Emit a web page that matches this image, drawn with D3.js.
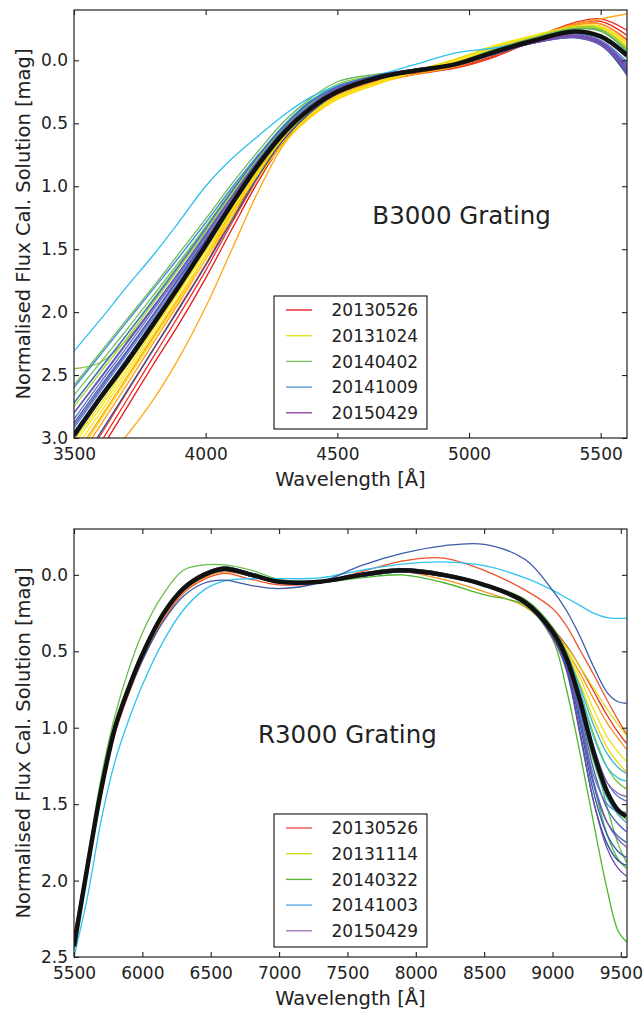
<!DOCTYPE html>
<html>
<head>
<meta charset="utf-8">
<script src="https://cdn.jsdelivr.net/npm/d3@7"></script>
<style>
body { margin: 0; background: #fff; }
text { font-family: "DejaVu Sans", sans-serif; fill: #222; }
</style>
</head>
<body>
<div id="chart"></div>
<script>
// ---------- B3000 grating (top) ----------
const bWave = [3500, 3600, 3700, 3800, 3900, 4000, 4100, 4200, 4300, 4400, 4500, 4650, 4800, 4950, 5100, 5250, 5400, 5500, 5600];
const bMean = [2.98, 2.68, 2.40, 2.10, 1.79, 1.47, 1.14, 0.83, 0.57, 0.38, 0.25, 0.14, 0.08, 0.03, -0.07, -0.16, -0.23, -0.19, -0.04];
const bRed = [
  [3.45, 3.10, 2.76, 2.42, 2.09, 1.73, 1.34, 0.96, 0.64, 0.42, 0.28, 0.17, 0.11, 0.06, -0.03, -0.17, -0.29, -0.31, -0.20],
  [3.38, 3.04, 2.70, 2.36, 2.02, 1.67, 1.29, 0.93, 0.62, 0.41, 0.27, 0.16, 0.10, 0.05, -0.04, -0.18, -0.30, -0.33, -0.24],
  [3.30, 2.98, 2.64, 2.30, 1.96, 1.62, 1.25, 0.90, 0.61, 0.40, 0.26, 0.16, 0.10, 0.06, -0.03, -0.16, -0.28, -0.29, -0.16]
];
const bOrange = [
  [3.22, 2.90, 2.58, 2.25, 1.92, 1.58, 1.22, 0.88, 0.60, 0.40, 0.26, 0.15, 0.09, 0.04, -0.05, -0.17, -0.28, -0.29, -0.17],
  [3.15, 2.84, 2.52, 2.20, 1.88, 1.55, 1.20, 0.87, 0.59, 0.39, 0.25, 0.15, 0.09, 0.04, -0.06, -0.17, -0.27, -0.27, -0.14],
  [3.44, 3.22, 2.98, 2.70, 2.36, 1.96, 1.50, 1.04, 0.66, 0.44, 0.30, 0.18, 0.11, 0.05, -0.06, -0.18, -0.29, -0.33, -0.37]
];
const bYellow = [
  [3.10, 2.80, 2.49, 2.18, 1.87, 1.55, 1.22, 0.90, 0.63, 0.43, 0.30, 0.18, 0.09, 0.00, -0.11, -0.19, -0.26, -0.26, -0.12],
  [3.05, 2.76, 2.46, 2.15, 1.84, 1.52, 1.19, 0.88, 0.61, 0.42, 0.29, 0.17, 0.08, -0.01, -0.12, -0.20, -0.27, -0.27, -0.14],
  [3.18, 2.86, 2.54, 2.22, 1.90, 1.58, 1.25, 0.93, 0.65, 0.45, 0.31, 0.19, 0.09, 0.01, -0.10, -0.19, -0.25, -0.24, -0.10],
  [3.02, 2.73, 2.43, 2.13, 1.82, 1.50, 1.17, 0.86, 0.60, 0.41, 0.28, 0.17, 0.08, -0.01, -0.11, -0.19, -0.26, -0.25, -0.11]
];
const bGreen = [
  [2.45, 2.40, 2.22, 1.96, 1.68, 1.38, 1.07, 0.78, 0.53, 0.33, 0.19, 0.12, 0.09, 0.03, -0.08, -0.17, -0.25, -0.24, -0.08],
  [2.58, 2.32, 2.06, 1.80, 1.53, 1.26, 0.98, 0.72, 0.48, 0.30, 0.17, 0.11, 0.08, 0.03, -0.08, -0.17, -0.25, -0.24, -0.08],
  [2.66, 2.40, 2.14, 1.87, 1.60, 1.32, 1.03, 0.76, 0.51, 0.32, 0.20, 0.13, 0.09, 0.03, -0.08, -0.18, -0.26, -0.25, -0.09],
  [2.75, 2.48, 2.21, 1.93, 1.65, 1.36, 1.06, 0.78, 0.53, 0.34, 0.22, 0.14, 0.08, 0.02, -0.09, -0.18, -0.26, -0.25, -0.09],
  [2.72, 2.45, 2.18, 1.90, 1.62, 1.33, 1.04, 0.76, 0.52, 0.33, 0.21, 0.13, 0.08, 0.02, -0.09, -0.18, -0.25, -0.23, -0.07]
];
const bCyan = [
  [2.31, 2.06, 1.80, 1.55, 1.28, 1.00, 0.78, 0.60, 0.43, 0.29, 0.20, 0.12, 0.03, -0.06, -0.10, -0.16, -0.23, -0.20, -0.06]
];
const bBlue = [
  [2.60, 2.34, 2.08, 1.82, 1.56, 1.29, 1.01, 0.75, 0.51, 0.32, 0.21, 0.13, 0.08, 0.03, -0.07, -0.16, -0.22, -0.18, -0.02],
  [2.72, 2.45, 2.18, 1.91, 1.63, 1.34, 1.04, 0.76, 0.52, 0.33, 0.21, 0.12, 0.07, 0.03, -0.07, -0.15, -0.21, -0.16, 0.01],
  [2.80, 2.52, 2.24, 1.96, 1.68, 1.38, 1.08, 0.79, 0.54, 0.35, 0.22, 0.12, 0.07, 0.03, -0.07, -0.15, -0.20, -0.15, 0.03],
  [2.85, 2.56, 2.28, 1.99, 1.70, 1.40, 1.09, 0.80, 0.55, 0.36, 0.22, 0.13, 0.07, 0.03, -0.07, -0.15, -0.20, -0.15, 0.04],
  [2.88, 2.59, 2.31, 2.02, 1.72, 1.42, 1.11, 0.81, 0.56, 0.37, 0.23, 0.13, 0.07, 0.03, -0.06, -0.14, -0.19, -0.14, 0.06],
  [2.92, 2.63, 2.34, 2.05, 1.75, 1.44, 1.12, 0.82, 0.56, 0.37, 0.23, 0.13, 0.07, 0.03, -0.06, -0.14, -0.19, -0.13, 0.08],
  [2.95, 2.66, 2.37, 2.07, 1.77, 1.46, 1.13, 0.83, 0.57, 0.38, 0.24, 0.14, 0.08, 0.03, -0.06, -0.14, -0.18, -0.12, 0.10],
  [3.28, 2.96, 2.63, 2.30, 1.97, 1.63, 1.27, 0.92, 0.62, 0.41, 0.26, 0.15, 0.09, 0.04, -0.05, -0.14, -0.19, -0.13, 0.12],
  [2.99, 2.70, 2.40, 2.10, 1.79, 1.47, 1.14, 0.83, 0.57, 0.38, 0.24, 0.14, 0.08, 0.03, -0.06, -0.14, -0.18, -0.12, 0.09]
];
const bPurple = [
  [2.80, 2.53, 2.25, 1.97, 1.68, 1.39, 1.09, 0.80, 0.55, 0.36, 0.22, 0.13, 0.07, 0.03, -0.07, -0.15, -0.20, -0.15, 0.05],
  [2.90, 2.61, 2.32, 2.03, 1.73, 1.43, 1.11, 0.81, 0.56, 0.37, 0.23, 0.13, 0.08, 0.03, -0.06, -0.14, -0.19, -0.14, 0.07],
  [2.97, 2.68, 2.38, 2.08, 1.78, 1.46, 1.13, 0.83, 0.57, 0.38, 0.24, 0.14, 0.08, 0.04, -0.06, -0.14, -0.19, -0.13, 0.08]
];
const bLegend = ["20130526", "20131024", "20140402", "20141009", "20150429"];
const bXTicks = [3500, 4000, 4500, 5000, 5500];
const bYTicks = [0.0, 0.5, 1.0, 1.5, 2.0, 2.5, 3.0];

// ---------- R3000 grating (bottom) ----------
const rWave = [5500, 5600, 5700, 5800, 5900, 6000, 6150, 6300, 6450, 6600, 6800, 7000, 7300, 7600, 7900, 8200, 8500, 8800, 9000, 9100, 9200, 9300, 9400, 9480, 9540];
const rMean = [2.43, 1.90, 1.40, 1.00, 0.74, 0.52, 0.26, 0.09, 0.00, -0.04, 0.00, 0.045, 0.045, 0.00, -0.03, 0.00, 0.065, 0.18, 0.37, 0.54, 0.82, 1.16, 1.42, 1.54, 1.58];
const rRed = [
  [2.35, 1.88, 1.42, 1.04, 0.78, 0.56, 0.30, 0.12, 0.03, -0.01, 0.03, 0.065, 0.05, -0.02, -0.09, -0.11, -0.03, 0.10, 0.22, 0.33, 0.49, 0.65, 0.82, 0.95, 1.04],
  [2.42, 1.89, 1.40, 1.00, 0.74, 0.52, 0.26, 0.09, 0.00, -0.04, 0.00, 0.045, 0.045, 0.00, -0.03, 0.00, 0.07, 0.18, 0.35, 0.46, 0.60, 0.76, 0.92, 1.03, 1.10]
];
const rOrange = [
  [2.45, 1.92, 1.42, 1.02, 0.76, 0.54, 0.28, 0.11, 0.02, -0.02, 0.01, 0.05, 0.05, 0.01, -0.02, 0.03, 0.11, 0.21, 0.37, 0.49, 0.64, 0.81, 0.97, 1.07, 1.14]
];
const rYellow = [
  [2.44, 1.91, 1.41, 1.01, 0.75, 0.53, 0.27, 0.10, 0.01, -0.03, 0.00, 0.04, 0.045, 0.00, -0.03, 0.00, 0.07, 0.19, 0.36, 0.47, 0.60, 0.74, 0.88, 0.98, 1.05],
  [2.43, 1.90, 1.40, 1.00, 0.74, 0.52, 0.26, 0.09, 0.00, -0.04, 0.00, 0.045, 0.045, 0.00, -0.03, 0.00, 0.065, 0.18, 0.36, 0.49, 0.67, 0.88, 1.06, 1.16, 1.22],
  [2.45, 1.92, 1.42, 1.02, 0.76, 0.54, 0.28, 0.10, 0.01, -0.03, 0.01, 0.05, 0.05, 0.01, -0.02, 0.01, 0.07, 0.18, 0.36, 0.50, 0.71, 0.94, 1.13, 1.23, 1.29]
];
const rGreen = [
  [2.40, 1.85, 1.32, 0.92, 0.62, 0.38, 0.13, -0.03, -0.065, -0.065, -0.03, 0.03, 0.04, 0.00, -0.03, 0.00, 0.06, 0.16, 0.34, 0.50, 0.78, 1.16, 1.52, 1.76, 1.88],
  [2.44, 1.90, 1.40, 1.00, 0.74, 0.52, 0.26, 0.09, 0.00, -0.03, 0.00, 0.04, 0.05, 0.02, 0.00, 0.05, 0.13, 0.20, 0.42, 0.74, 1.16, 1.62, 2.06, 2.33, 2.40],
  [2.42, 1.89, 1.39, 0.99, 0.73, 0.51, 0.25, 0.08, -0.01, -0.05, -0.01, 0.04, 0.04, 0.00, -0.03, 0.00, 0.06, 0.18, 0.37, 0.52, 0.76, 1.04, 1.26, 1.36, 1.40],
  [2.41, 1.88, 1.38, 0.98, 0.72, 0.50, 0.24, 0.08, -0.01, -0.05, -0.01, 0.04, 0.04, -0.01, -0.04, -0.01, 0.06, 0.18, 0.39, 0.57, 0.92, 1.36, 1.70, 1.86, 1.92],
  [2.43, 1.90, 1.40, 1.00, 0.74, 0.52, 0.26, 0.09, 0.00, -0.04, 0.00, 0.045, 0.045, 0.00, -0.03, 0.00, 0.065, 0.18, 0.38, 0.55, 0.86, 1.22, 1.46, 1.56, 1.60]
];
const rCyan = [
  [2.50, 2.10, 1.60, 1.22, 0.95, 0.72, 0.44, 0.23, 0.10, 0.04, 0.025, 0.025, 0.02, -0.03, -0.07, -0.085, -0.06, 0.02, 0.10, 0.15, 0.20, 0.25, 0.28, 0.285, 0.285],
  [2.43, 1.90, 1.40, 1.00, 0.74, 0.52, 0.26, 0.09, 0.00, -0.04, 0.00, 0.045, 0.045, 0.00, -0.03, 0.00, 0.065, 0.18, 0.37, 0.51, 0.73, 0.98, 1.17, 1.26, 1.30],
  [2.44, 1.91, 1.41, 1.01, 0.75, 0.53, 0.27, 0.10, 0.01, -0.03, 0.01, 0.05, 0.05, 0.01, -0.02, 0.01, 0.07, 0.18, 0.38, 0.54, 0.83, 1.20, 1.46, 1.57, 1.62],
  [2.42, 1.89, 1.39, 0.99, 0.73, 0.51, 0.25, 0.08, -0.01, -0.05, -0.01, 0.04, 0.04, 0.00, -0.03, 0.00, 0.06, 0.18, 0.37, 0.52, 0.76, 1.06, 1.26, 1.33, 1.35]
];
const rBlue = [
  [2.42, 1.88, 1.40, 1.02, 0.77, 0.56, 0.31, 0.14, 0.055, 0.035, 0.07, 0.09, 0.05, -0.06, -0.14, -0.19, -0.20, -0.10, 0.10, 0.23, 0.40, 0.60, 0.77, 0.83, 0.84],
  [2.42, 1.89, 1.39, 0.99, 0.73, 0.51, 0.25, 0.08, -0.01, -0.05, -0.01, 0.04, 0.04, 0.00, -0.03, 0.00, 0.06, 0.18, 0.37, 0.52, 0.79, 1.12, 1.36, 1.45, 1.48],
  [2.43, 1.90, 1.40, 1.00, 0.74, 0.52, 0.26, 0.09, 0.00, -0.04, 0.00, 0.04, 0.04, -0.01, -0.04, -0.01, 0.06, 0.18, 0.38, 0.55, 0.88, 1.27, 1.53, 1.63, 1.68],
  [2.44, 1.91, 1.41, 1.01, 0.75, 0.53, 0.27, 0.10, 0.01, -0.03, 0.01, 0.05, 0.05, 0.00, -0.03, 0.00, 0.07, 0.19, 0.40, 0.59, 0.97, 1.42, 1.70, 1.81, 1.85],
  [2.42, 1.89, 1.39, 0.99, 0.73, 0.51, 0.25, 0.08, -0.01, -0.05, -0.01, 0.04, 0.045, 0.00, -0.03, 0.00, 0.065, 0.18, 0.38, 0.56, 0.90, 1.31, 1.50, 1.55, 1.55],
  [2.43, 1.90, 1.40, 1.00, 0.74, 0.52, 0.26, 0.09, 0.00, -0.04, 0.00, 0.045, 0.045, 0.00, -0.03, 0.00, 0.065, 0.18, 0.39, 0.58, 0.94, 1.37, 1.62, 1.71, 1.75],
  [2.44, 1.91, 1.41, 1.01, 0.75, 0.53, 0.27, 0.10, 0.01, -0.03, 0.01, 0.05, 0.05, 0.01, -0.02, 0.01, 0.07, 0.18, 0.40, 0.61, 1.02, 1.48, 1.76, 1.87, 1.90]
];
const rPurple = [
  [2.43, 1.90, 1.40, 1.00, 0.74, 0.52, 0.26, 0.09, 0.00, -0.04, 0.00, 0.045, 0.045, 0.00, -0.03, 0.00, 0.065, 0.18, 0.39, 0.57, 0.93, 1.35, 1.62, 1.73, 1.78],
  [2.44, 1.91, 1.41, 1.01, 0.75, 0.53, 0.27, 0.10, 0.01, -0.03, 0.01, 0.05, 0.05, 0.01, -0.02, 0.01, 0.07, 0.18, 0.41, 0.62, 1.04, 1.48, 1.79, 1.92, 1.97],
  [2.42, 1.89, 1.39, 0.99, 0.73, 0.51, 0.25, 0.08, -0.01, -0.05, -0.01, 0.04, 0.04, 0.00, -0.03, 0.00, 0.06, 0.18, 0.37, 0.53, 0.80, 1.14, 1.36, 1.43, 1.45]
];
const rLegend = ["20130526", "20131114", "20140322", "20141003", "20150429"];
const rXTicks = [5500, 6000, 6500, 7000, 7500, 8000, 8500, 9000, 9500];
const rYTicks = [0.0, 0.5, 1.0, 1.5, 2.0, 2.5];

// ---------- drawing ----------
const plotW = 553, plotH = 428, left = 74;

const svg = d3.select("#chart").append("svg")
    .attr("width", 643)
    .attr("height", 1013);

function drawPanel(p) {
    const g = svg.append("g").attr("transform", `translate(${left},${p.top})`);

    const xScale = d3.scaleLinear().domain(p.xDomain).range([0, plotW]);
    // magnitudes: small values at the top
    const yScale = d3.scaleLinear().domain(p.yDomain).range([0, plotH]);

    g.append("clipPath").attr("id", p.id + "-clip")
        .append("rect").attr("width", plotW).attr("height", plotH);

    const line = d3.line()
        .x((d, i) => xScale(p.wave[i]))
        .y(d => yScale(d))
        .curve(d3.curveCatmullRom);

    const lines = g.append("g").attr("clip-path", `url(#${p.id}-clip)`);

    p.groups.forEach(grp => {
        lines.selectAll(null)
            .data(grp.data)
            .join("path")
            .attr("fill", "none")
            .attr("stroke", (d, i) => grp.colours[i % grp.colours.length])
            .attr("stroke-width", 1.3)
            .attr("d", line);
    });

    // mean solution
    lines.append("path")
        .attr("fill", "none")
        .attr("stroke", "#111")
        .attr("stroke-width", 4.5)
        .attr("d", line(p.mean));

    // axes, ticks pointing inwards on all four sides
    const styleAxis = sel => {
        sel.select(".domain").remove();
        sel.selectAll("line").attr("stroke", "#222").attr("stroke-width", 1.1);
        sel.selectAll("text").attr("fill", "#222");
        sel.attr("font-size", 17).attr("font-family", "DejaVu Sans, sans-serif");
    };

    g.append("g")
        .attr("transform", `translate(0,${plotH})`)
        .call(d3.axisBottom(xScale).tickValues(p.xTicks).tickSize(-5).tickPadding(10).tickFormat(d3.format("d")))
        .call(styleAxis);
    g.append("g")
        .call(d3.axisTop(xScale).tickValues(p.xTicks).tickSize(-5).tickFormat(""))
        .call(styleAxis);
    g.append("g")
        .call(d3.axisLeft(yScale).tickValues(p.yTicks).tickSize(-5).tickPadding(6).tickFormat(d3.format(".1f")))
        .call(styleAxis);
    g.append("g")
        .attr("transform", `translate(${plotW},0)`)
        .call(d3.axisRight(yScale).tickValues(p.yTicks).tickSize(-5).tickFormat(""))
        .call(styleAxis);

    g.append("rect")
        .attr("width", plotW)
        .attr("height", plotH)
        .attr("fill", "none")
        .attr("stroke", "#222")
        .attr("stroke-width", 1.2);

    // axis titles
    g.append("text")
        .attr("x", plotW / 2)
        .attr("y", plotH + 48)
        .attr("text-anchor", "middle")
        .attr("font-size", 19.5)
        .text("Wavelength [Å]");

    g.append("text")
        .attr("transform", `translate(${30 - left},${plotH / 2}) rotate(-90)`)
        .attr("text-anchor", "middle")
        .attr("font-size", 19.5)
        .text("Normalised Flux Cal. Solution [mag]");

    // grating label
    g.append("text")
        .attr("x", xScale(p.titleAt[0]))
        .attr("y", yScale(p.titleAt[1]))
        .attr("font-size", 24.5)
        .text(p.title);

    // legend
    const lg = g.append("g").attr("transform", `translate(200,${p.legendTop})`);
    lg.append("rect")
        .attr("width", 153)
        .attr("height", 133)
        .attr("fill", "#fff")
        .attr("stroke", "#111")
        .attr("stroke-width", 1.1);
    const rows = lg.selectAll(".row")
        .data(p.legend)
        .join("g")
        .attr("transform", (d, i) => `translate(0,${14 + i * 25.7})`);
    rows.append("line")
        .attr("x1", 12).attr("x2", 38)
        .attr("stroke", (d, i) => p.legendColours[i])
        .attr("stroke-width", 1.4);
    rows.append("text")
        .attr("x", 57.5)
        .attr("dy", "0.36em")
        .attr("font-size", 17)
        .text(d => d);
}

drawPanel({
    id: "b3000",
    top: 10,
    wave: bWave,
    mean: bMean,
    xDomain: [3500, 5600],
    yDomain: [-0.4, 3.0],
    xTicks: bXTicks,
    yTicks: bYTicks,
    title: "B3000 Grating",
    titleAt: [4633, 1.30],
    legend: bLegend,
    legendColours: ["#e8262a", "#e6e01e", "#84c267", "#579ad8", "#9645ab"],
    legendTop: 286,
    groups: [
        {data: bRed, colours: ["#e41a1c", "#ee2c24", "#f2401c"]},
        {data: bOrange, colours: ["#ff9a1c", "#f7a21b", "#ffa812"]},
        {data: bYellow, colours: ["#ffe414", "#f5e50a", "#ffd60a", "#eadc1a"]},
        {data: bGreen, colours: ["#8cc63f", "#6dbb5a", "#74c06c", "#a8d13a", "#5fb45c"]},
        {data: bCyan, colours: ["#2cc0ee"]},
        {data: bBlue, colours: ["#3b8ccc", "#4470c4", "#3e63b8", "#5277cc", "#4a5fb5", "#4c86d2", "#3a58ab", "#2d4e9e", "#5268bf"]},
        {data: bPurple, colours: ["#7b52b4", "#6650ad", "#8a48aa"]}
    ]
});

drawPanel({
    id: "r3000",
    top: 529,
    wave: rWave,
    mean: rMean,
    xDomain: [5500, 9545],
    yDomain: [-0.3, 2.5],
    xTicks: rXTicks,
    yTicks: rYTicks,
    title: "R3000 Grating",
    titleAt: [6846, 1.10],
    legend: rLegend,
    legendColours: ["#f05a50", "#cfdc1e", "#5cb836", "#5aabea", "#a47bb8"],
    legendTop: 285,
    groups: [
        {data: rRed, colours: ["#f0522d", "#e8301e"]},
        {data: rOrange, colours: ["#f5951c"]},
        {data: rYellow, colours: ["#d8e01c", "#e8e41a", "#f1d60e"]},
        {data: rGreen, colours: ["#66c04c", "#4cb62c", "#6cbf3c", "#52b848", "#8cc83a"]},
        {data: rCyan, colours: ["#2ec4f2", "#38b8c8", "#40acde", "#3fc0d8"]},
        {data: rBlue, colours: ["#3b5ba8", "#4a78c8", "#3f64b4", "#2f58a8", "#5580d0", "#3468b8", "#2a4c9c"]},
        {data: rPurple, colours: ["#7a55b0", "#6a4aa8", "#8660b4"]}
    ]
});
</script>
</body>
</html>
